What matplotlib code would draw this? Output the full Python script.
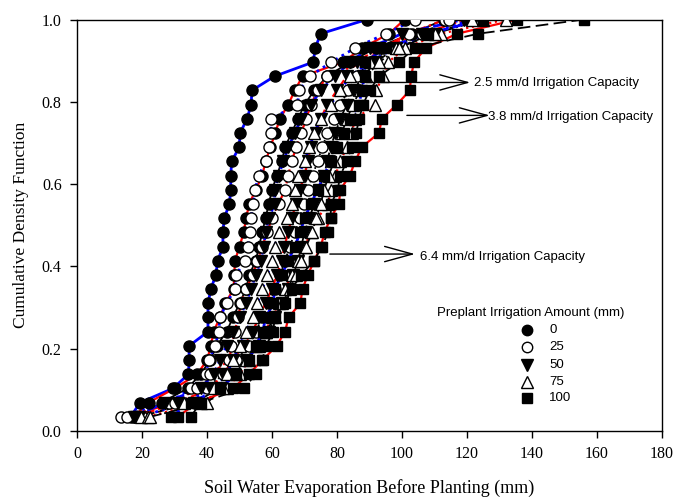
import matplotlib
matplotlib.use("Agg")
import matplotlib.pyplot as plt
import numpy as np

# ---------------- data ----------------
n_points = 29
cdf = [k / n_points for k in range(1, n_points + 1)]

amounts = ["0", "25", "50", "75", "100"]
capacities = ["2.5", "3.8", "6.4"]

# Soil water evaporation (mm) sorted, per preplant amount / irrigation capacity
e0_25 = [16.5, 19.4, 29.5, 34.3, 34.5, 34.5, 40.3, 40.3, 40.3, 41.2, 42.7, 43.3, 44.9, 44.9, 45.3,
         46.9, 47.3, 47.3, 47.6, 49.9, 50.2, 52.3, 53.6, 53.8, 60.8, 72.7, 73.3, 75.0, 89.2]
e0_38 = [17.5, 22, 30, 37, 40, 41.2, 42, 44, 45.6, 48.2, 48.4, 48.6, 50, 51.3, 52,
         53, 55, 57, 58, 59.5, 61, 62.4, 65, 67, 69.4, 81.9, 87.8, 96, 100.8]
e0_64 = [19, 26, 34, 38, 41, 43, 46, 48, 50, 52, 53, 55, 56, 57, 58,
         59, 60, 61.5, 63, 64, 66, 68, 70, 73, 77, 84, 92, 103, 113]
e25_25 = [13.6, 28.4, 35, 39.6, 40.5, 42.5, 43.6, 44, 46, 48.6, 48.9, 51.8, 52.6, 53.1, 53.5,
          54.2, 54.8, 55.9, 58.1, 59.2, 59.7, 59.7, 67.8, 68.4, 71.6, 78.3, 85.6, 95, 104]
e25_38 = [15.3, 30, 37, 41, 46.9, 47.5, 48.6, 49.5, 50.5, 52, 54, 55.5, 57, 58.5, 60,
          62, 64, 65, 66, 67.5, 69, 70.5, 72, 74, 77, 88.5, 94, 102, 113.2]
e25_64 = [20, 33, 40, 45, 49, 53, 55, 57, 59, 61, 62.5, 64, 65.5, 67, 68.5,
          69.7, 71, 72.5, 74, 75.5, 77, 79, 81, 83.5, 86, 90, 97, 106, 114.5]
e50_25 = [17.6, 27, 38, 42, 44, 46, 48, 50, 52, 53.5, 55, 56.5, 57.5, 58, 59,
          60.8, 60.8, 62, 63.5, 65, 67, 69, 72, 75, 79.3, 84, 90, 100, 119]
e50_38 = [18, 31, 41, 45, 48, 51, 54, 56, 58, 60, 61.5, 63, 63.8, 65, 66,
          67.5, 68.5, 70, 71, 72, 73.5, 75, 77, 80, 83, 86, 93, 106, 120]
e50_64 = [19, 36, 44, 48, 52, 56, 59, 61, 63, 65, 66.5, 68, 69, 70, 71.5,
          73, 74.5, 76, 77, 78, 79.5, 81, 83, 85, 88, 92, 98, 110, 122]
e75_25 = [19.8, 33, 42, 46, 48, 50, 52, 54, 55.5, 57, 58.5, 60, 60.8, 62, 64.5,
          66, 67, 68, 70, 71.5, 73, 75, 78, 81, 84, 90, 98, 108, 121.5]
e75_38 = [21.8, 38, 46, 50, 53, 56, 58, 60, 62, 64, 66, 68, 70, 72, 74,
          77.3, 78, 79.5, 81, 83, 84.5, 85.6, 91.8, 92, 94.2, 95.8, 101, 112, 132]
e75_64 = [22.5, 40, 45, 49, 52, 55, 58, 61, 63, 65.5, 67.5, 69, 70.5, 72.4, 73.5,
          75, 76, 77.5, 79, 80, 81.5, 83, 85, 87, 89, 93, 99, 110, 125]
e100_25 = [29, 35, 44, 49, 52.8, 55, 57.1, 58.1, 60.4, 60.8, 63, 65, 67, 68.7, 70,
           72, 74, 76, 78, 80, 82, 84, 86.8, 87.6, 88.5, 88.5, 95, 108, 124.8]
e100_38 = [31, 37, 48, 52.8, 57.1, 61.4, 64, 65.1, 68.7, 69.4, 71, 73, 75, 76.2, 78,
           80.6, 81, 83.9, 85.6, 87.6, 92.9, 93.8, 98.4, 102.4, 102.8, 103.7, 107.4, 117, 135.4]
e100_64 = [35, 38, 51.3, 55, 57, 58.1, 60.4, 60.8, 64, 66, 69, 73, 75.3, 77.3, 78,
           78.2, 80.2, 81, 83, 84.5, 85.9, 86.8, 88, 90, 93, 99, 104, 123.5, 155.9]

series = {
    ("0", "2.5"): e0_25, ("0", "3.8"): e0_38, ("0", "6.4"): e0_64,
    ("25", "2.5"): e25_25, ("25", "3.8"): e25_38, ("25", "6.4"): e25_64,
    ("50", "2.5"): e50_25, ("50", "3.8"): e50_38, ("50", "6.4"): e50_64,
    ("75", "2.5"): e75_25, ("75", "3.8"): e75_38, ("75", "6.4"): e75_64,
    ("100", "2.5"): e100_25, ("100", "3.8"): e100_38, ("100", "6.4"): e100_64,
}

x_ticks = [0, 20, 40, 60, 80, 100, 120, 140, 160, 180]
y_ticks = [0.0, 0.2, 0.4, 0.6, 0.8, 1.0]

# ---------------- styles ----------------
cap_color = {"2.5": "#0000ff", "3.8": "#ff0000", "6.4": "#000000"}
cap_lw = {"2.5": 2.0, "3.8": 1.6, "6.4": 1.3}
line_style = {
    ("0", "2.5"): "-", ("0", "3.8"): "-", ("0", "6.4"): "-",
    ("25", "2.5"): ":", ("25", "3.8"): "-.", ("25", "6.4"): ":",
    ("50", "2.5"): "--", ("50", "3.8"): "--", ("50", "6.4"): "--",
    ("75", "2.5"): ":", ("75", "3.8"): ":", ("75", "6.4"): "-.",
    ("100", "2.5"): "--", ("100", "3.8"): "-", ("100", "6.4"): (0, (7, 3)),
}
marker_style = {
    "0": dict(marker="o", mfc="black", ms=8),
    "25": dict(marker="o", mfc="white", ms=8),
    "50": dict(marker="v", mfc="black", ms=8.5),
    "75": dict(marker="^", mfc="white", ms=8.5),
    "100": dict(marker="s", mfc="black", ms=7.5),
}

serif = ["Liberation Serif", "DejaVu Serif"]
sans = ["Liberation Sans", "DejaVu Sans"]

fig = plt.figure(figsize=(6.73, 4.97), dpi=100)
ax = fig.add_axes([77 / 673, (497 - 431) / 497, 585 / 673, 411.5 / 497])

# lines first
for (amt, cap), vals in series.items():
    ax.plot(vals, cdf, color=cap_color[cap], lw=cap_lw[cap],
            ls=line_style[(amt, cap)], zorder=2)
# markers
for (amt, cap), vals in series.items():
    st = marker_style[amt]
    ax.plot(vals, cdf, ls="none", marker=st["marker"], mfc=st["mfc"],
            mec="black", mew=1.0, ms=st["ms"], zorder=3)

ax.set_xlim(0, 180)
ax.set_ylim(0, 1.0)
ax.set_xticks(x_ticks)
ax.set_yticks(y_ticks)
ax.set_xticklabels([str(t) for t in x_ticks], fontfamily=serif, fontsize=11.5)
ax.set_yticklabels([f"{t:.1f}" for t in y_ticks], fontfamily=serif, fontsize=11.5)
ax.tick_params(direction="out", length=5, width=1, pad=6)
for s in ax.spines.values():
    s.set_linewidth(1.0)

ax.set_xlabel("Soil Water Evaporation Before Planting (mm)", fontfamily=serif,
              fontsize=13, labelpad=12)
ax.set_ylabel("Cumulative Density Function", fontfamily=serif, fontsize=12.5,
              labelpad=9)

# annotations
arrow_kw = dict(arrowstyle="->, head_length=2.0, head_width=0.55", lw=1.0,
                color="black", shrinkA=0, shrinkB=0, mutation_scale=10)
annots = [
    ("2.5 mm/d Irrigation Capacity", 89, 0.847, 121, 0.847, 122, 0.845),
    ("3.8 mm/d Irrigation Capacity", 101.5, 0.767, 127, 0.767, 126.5, 0.762),
    ("6.4 mm/d Irrigation Capacity", 77.8, 0.43, 104, 0.43, 105.5, 0.423),
]
for txt, x0, y0, x1, y1, tx, ty in annots:
    ax.annotate("", xy=(x1, y1), xytext=(x0, y0), arrowprops=arrow_kw, zorder=4)
    ax.text(tx, ty, txt, fontfamily=sans, fontsize=9.5, va="center", ha="left", zorder=5)

# legend (manual)
ax.text(0.615, 0.287, "Preplant Irrigation Amount (mm)", transform=ax.transAxes,
        fontfamily=sans, fontsize=9.5, va="center", ha="left")
leg_y = [0.245, 0.203, 0.161, 0.120, 0.080]
for amt, yy in zip(amounts, leg_y):
    st = marker_style[amt]
    ax.plot([0.769], [yy], transform=ax.transAxes, ls="none", marker=st["marker"],
            mfc=st["mfc"], mec="black", mew=1.0, ms=st["ms"] - 0.5, clip_on=False)
    ax.text(0.807, yy, amt, transform=ax.transAxes, fontfamily=sans, fontsize=9.5,
            va="center", ha="left")

fig.savefig("out.png", dpi=100)
